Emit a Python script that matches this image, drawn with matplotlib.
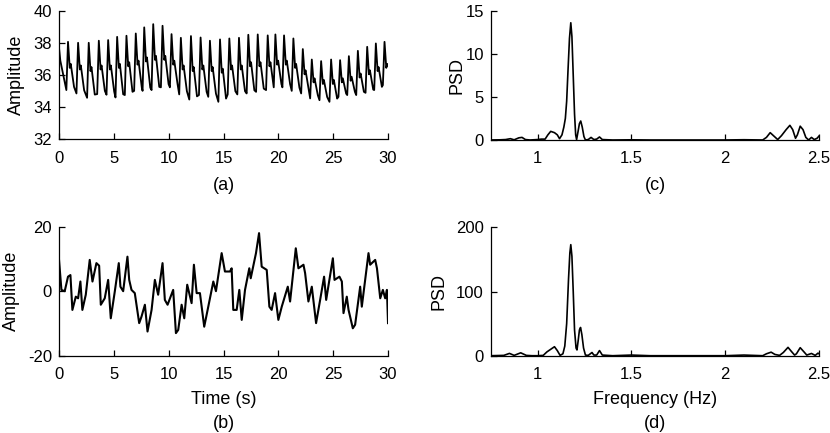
import matplotlib
matplotlib.use('Agg')
import matplotlib.pyplot as plt

plt.rcParams['font.family'] = ['Liberation Sans', 'DejaVu Sans']
plt.rcParams['font.size'] = 12
plt.rcParams['axes.unicode_minus'] = False

# ---- (a) raw signal, read cycle by cycle off the picture ----
peak_t = [0.82, 1.74, 2.71, 3.63, 4.48, 5.30, 6.15, 7.00, 7.77, 8.59,
          9.44, 10.26, 11.11, 12.03, 12.91, 13.76, 14.68, 15.53, 16.41, 17.26,
          18.12, 19.03, 19.73, 20.52, 21.37, 22.23, 23.05, 23.90, 24.81, 25.63,
          26.43, 27.25, 28.10, 28.89, 29.68]
peak_v = [38.07, 38.01, 38.01, 38.14, 38.18, 38.38, 38.45, 38.59, 38.97, 39.17,
          39.07, 38.55, 38.32, 38.43, 38.34, 38.14, 38.22, 38.28, 38.32, 38.51,
          38.53, 38.47, 38.53, 38.47, 38.28, 37.62, 36.97, 36.87, 36.97, 36.93,
          37.18, 37.51, 37.76, 37.97, 38.07]
trough_v = [35.07, 34.86, 34.59, 34.82, 34.78, 34.61, 34.76, 35.02, 35.02, 35.07,
            35.24, 35.24, 34.80, 34.48, 34.76, 34.65, 34.34, 34.80, 34.80, 34.86,
            34.96, 35.07, 35.24, 35.24, 35.02, 34.86, 34.55, 34.44, 34.34, 34.65,
            34.76, 34.76, 34.90, 35.07, 35.38]
notch_v = [36.7, 36.6, 36.5, 36.6, 36.6, 36.7, 36.8, 36.9, 37.1, 37.2,
           37.2, 36.9, 36.6, 36.5, 36.6, 36.5, 36.4, 36.6, 36.6, 36.8,
           36.8, 36.8, 36.9, 36.9, 36.7, 36.3, 35.8, 35.7, 35.7, 35.8,
           35.9, 36.1, 36.3, 36.5, 36.7]
start_v = [37.7, 36.9]
end_v = 36.6

# ---- (b) filtered signal ----
sig_t = [0.0, 0.22, 0.52, 0.82, 1.04, 1.22, 1.53, 1.74, 1.95, 2.13,
         2.44, 2.80, 3.05, 3.41, 3.66, 3.81, 4.17, 4.48, 4.72, 5.09,
         5.45, 5.60, 5.85, 6.24, 6.40, 6.61, 6.91, 7.31, 7.52, 7.83,
         8.07, 8.44, 8.74, 9.04, 9.44, 9.65, 9.90, 10.41, 10.66, 10.87,
         11.18, 11.42, 11.69, 12.09, 12.30, 12.55, 12.85, 13.24, 13.61, 14.07,
         14.31, 14.83, 15.13, 15.59, 15.74, 15.89, 16.20, 16.44, 16.66, 16.96,
         17.35, 17.48, 17.96, 18.24, 18.48, 18.94, 19.18, 19.39, 19.70, 20.00,
         20.31, 20.86, 21.07, 21.59, 21.83, 22.29, 22.44, 22.74, 23.05, 23.44,
         23.81, 24.17, 24.36, 24.97, 25.12, 25.57, 25.79, 25.94, 26.24, 26.40,
         26.79, 27.00, 27.46, 27.61, 28.22, 28.37, 28.83, 28.99, 29.29, 29.53,
         29.74, 29.90, 30.0]
sig_v = [9.7, 0.4, 0.0, 4.5, 5.0, -5.8, -1.7, -2.2, 3.0, -5.8,
         -1.1, 9.7, 3.0, 8.7, 7.9, -4.2, -2.2, 3.5, -8.4, 0.0,
         8.7, 1.4, 0.0, 10.7, 3.5, 0.4, -0.6, -9.9, -7.9, -4.2,
         -12.5, -5.8, 3.5, -1.1, 8.7, -2.7, -4.2, 0.4, -13.0, -12.0,
         -4.2, -8.4, 2.0, -3.7, 8.2, -0.6, -0.6, -11.0, -4.8, 3.0,
         0.0, 11.8, 6.1, 6.1, 7.1, -5.8, -5.8, 0.4, -8.9, 0.4,
         7.1, 4.0, 11.8, 18.0, 7.6, 6.6, -4.8, -5.8, -0.6, -8.9,
         -4.8, 1.4, -3.2, 13.3, 7.1, 8.2, 5.6, -3.2, 1.4, -9.9,
         -2.7, 4.5, -2.7, 10.2, 3.5, 4.5, 3.0, -6.8, -1.7, -5.8,
         -11.5, -10.4, 1.4, -4.8, 11.8, 8.2, 9.7, 7.1, -2.2, 0.4,
         -2.2, 0.4, -9.9]

# ---- (c) PSD of raw signal ----
freq_c = [0.75, 0.80, 0.83, 0.855, 0.875, 0.90, 0.917, 0.935, 0.96, 1.00,
          1.02, 1.04, 1.055, 1.07, 1.09, 1.105, 1.117, 1.13, 1.14, 1.148,
          1.155, 1.162, 1.17, 1.177, 1.183, 1.19, 1.197, 1.203, 1.208, 1.215,
          1.223, 1.23, 1.238, 1.247, 1.255, 1.27, 1.285, 1.30, 1.315, 1.33,
          1.345, 1.40, 1.50, 1.60, 1.80, 2.00, 2.10, 2.20, 2.22, 2.24,
          2.26, 2.28, 2.30, 2.325, 2.345, 2.36, 2.375, 2.385, 2.40, 2.415,
          2.43, 2.445, 2.46, 2.475, 2.49, 2.50]
psd_c = [0.0, 0.02, 0.05, 0.15, 0.02, 0.25, 0.3, 0.05, 0.0, 0.05,
         0.1, 0.1, 0.6, 1.0, 0.85, 0.6, 0.15, 0.6, 1.5, 2.5,
         4.5, 8.0, 11.8, 13.6, 12.0, 7.5, 3.0, 0.6, 0.05, 0.9,
         1.9, 2.2, 1.5, 0.4, 0.0, 0.05, 0.3, 0.05, 0.1, 0.35,
         0.05, 0.0, 0.02, 0.0, 0.0, 0.0, 0.03, 0.0, 0.3, 0.85,
         0.45, 0.05, 0.5, 1.2, 1.7, 1.2, 0.2, 0.6, 1.6, 1.2,
         0.3, 0.0, 0.3, 0.05, 0.2, 0.45]

# ---- (d) PSD of filtered signal ----
freq_d = [0.75, 0.82, 0.85, 0.875, 0.91, 0.94, 0.97, 1.00, 1.03, 1.05,
          1.07, 1.09, 1.105, 1.12, 1.135, 1.145, 1.155, 1.165, 1.172, 1.177,
          1.183, 1.19, 1.197, 1.205, 1.21, 1.217, 1.223, 1.229, 1.236, 1.245,
          1.255, 1.27, 1.29, 1.30, 1.315, 1.33, 1.345, 1.40, 1.50, 1.60,
          1.80, 2.00, 2.10, 2.20, 2.22, 2.245, 2.265, 2.29, 2.31, 2.335,
          2.355, 2.37, 2.38, 2.40, 2.42, 2.435, 2.46, 2.48, 2.495, 2.50]
psd_d = [0.0, 0.5, 3.6, 0.5, 4.5, 0.5, 0.0, 0.0, 0.5, 6.0,
         10.0, 14.0, 8.0, 0.5, 3.0, 15.0, 50.0, 120.0, 160.0, 173.0,
         155.0, 100.0, 40.0, 12.0, 9.0, 25.0, 40.0, 44.0, 33.0, 12.0,
         1.0, 0.5, 5.0, 1.0, 1.0, 8.0, 1.0, 0.0, 1.0, 0.0,
         0.0, 0.0, 1.0, 0.0, 3.0, 5.5, 2.0, 0.5, 5.0, 13.0,
         6.0, 1.0, 3.0, 12.5, 6.0, 1.0, 3.5, 0.5, 4.0, 3.0]


def build_raw():
    ta = [0.0, 0.12]
    va = list(start_v)
    for i in range(len(peak_t)):
        tp = peak_t[i]
        ta += [tp - 0.15, tp, tp + 0.16, tp + 0.25, tp + 0.55]
        va += [trough_v[i], peak_v[i], notch_v[i] - 0.25, notch_v[i], trough_v[i] + 0.2]
    keep = [(t, v) for t, v in zip(ta, va) if t < 30]
    ta = [k[0] for k in keep] + [30.0]
    va = [k[1] for k in keep] + [end_v]
    return ta, va


def style(ax):
    ax.spines['top'].set_visible(False)
    ax.spines['right'].set_visible(False)
    for s in ['left', 'bottom']:
        ax.spines[s].set_linewidth(0.9)
    ax.tick_params(direction='in', length=4, width=0.9, labelsize=12)
    ax.tick_params(axis='x', pad=8)
    ax.tick_params(axis='y', pad=5)


fig = plt.figure(figsize=(8.3, 4.33), dpi=100)

ax_a = fig.add_axes([0.0711, 0.678, 0.3964, 0.297])
ax_b = fig.add_axes([0.0711, 0.1785, 0.3964, 0.298])
ax_c = fig.add_axes([0.5912, 0.6767, 0.3955, 0.2986])
ax_d = fig.add_axes([0.5912, 0.1785, 0.3955, 0.2965])

ta, va = build_raw()
ax_a.plot(ta, va, color='black', lw=1.3)
ax_a.set_xlim(0, 30)
ax_a.set_ylim(32, 40)
ax_a.set_xticks([0, 5, 10, 15, 20, 25, 30])
ax_a.set_yticks([32, 34, 36, 38, 40])
ax_a.set_ylabel('Amplitude', fontsize=13)
ax_a.yaxis.set_label_coords(-0.104, 0.5)

ax_b.plot(sig_t, sig_v, color='black', lw=1.5)
ax_b.set_xlim(0, 30)
ax_b.set_ylim(-20, 20)
ax_b.set_xticks([0, 5, 10, 15, 20, 25, 30])
ax_b.set_yticks([-20, 0, 20])
ax_b.set_ylabel('Amplitude', fontsize=13)
ax_b.yaxis.set_label_coords(-0.12, 0.5)

ax_c.plot(freq_c, psd_c, color='black', lw=1.2)
ax_c.set_xlim(0.75, 2.5)
ax_c.set_ylim(0, 15)
ax_c.set_xticks([1, 1.5, 2, 2.5])
ax_c.set_xticklabels(['1', '1.5', '2', '2.5'])
ax_c.set_yticks([0, 5, 10, 15])
ax_c.set_ylabel('PSD', fontsize=13)
ax_c.yaxis.set_label_coords(-0.078, 0.5)

ax_d.plot(freq_d, psd_d, color='black', lw=1.2)
ax_d.set_xlim(0.75, 2.5)
ax_d.set_ylim(0, 200)
ax_d.set_xticks([1, 1.5, 2, 2.5])
ax_d.set_xticklabels(['1', '1.5', '2', '2.5'])
ax_d.set_yticks([0, 100, 200])
ax_d.set_ylabel('PSD', fontsize=13)
ax_d.yaxis.set_label_coords(-0.133, 0.5)

for ax in [ax_a, ax_b, ax_c, ax_d]:
    style(ax)

# captions and x labels (figure pixel positions from the reference)
fig.text(223.5 / 830, 1 - 186 / 433, '(a)', ha='center', va='center', fontsize=13)
fig.text(655 / 830, 1 - 186 / 433, '(c)', ha='center', va='center', fontsize=13)
fig.text(223.5 / 830, 1 - 399 / 433, 'Time (s)', ha='center', va='center', fontsize=13)
fig.text(655 / 830, 1 - 400 / 433, 'Frequency (Hz)', ha='center', va='center', fontsize=13)
fig.text(223.5 / 830, 1 - 423 / 433, '(b)', ha='center', va='center', fontsize=13)
fig.text(655 / 830, 1 - 424 / 433, '(d)', ha='center', va='center', fontsize=13)

plt.savefig('out.png', dpi=100)
plt.close()
